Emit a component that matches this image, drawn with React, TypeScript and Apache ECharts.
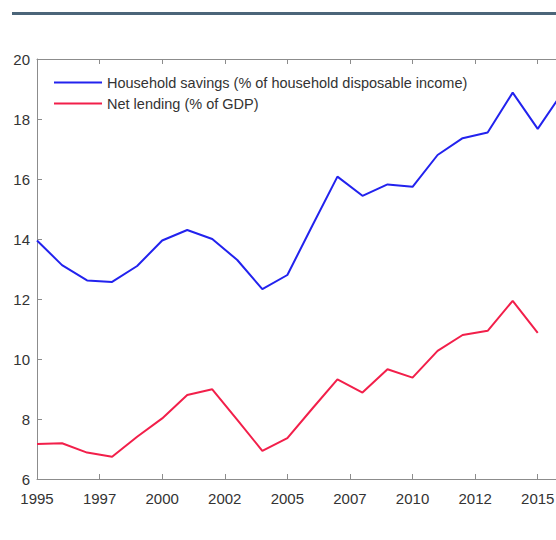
import React, { useEffect, useRef } from "react";
import * as echarts from "echarts";

const years = [1995, 1996, 1997, 1998, 1999, 2000, 2001, 2002, 2003, 2004, 2005, 2006, 2007, 2008, 2009, 2010, 2011, 2012, 2013, 2014, 2015, 2016];
const householdSavings = [13.95, 13.13, 12.62, 12.57, 13.1, 13.95, 14.3, 14.0, 13.3, 12.33, 12.8, 14.45, 16.08, 15.44, 15.82, 15.74, 16.8, 17.36, 17.55, 18.88, 17.67, 18.9];
const netLending = [7.17, 7.19, 6.88, 6.74, 7.41, 8.02, 8.8, 8.99, 7.97, 6.94, 7.36, 8.35, 9.32, 8.88, 9.66, 9.38, 10.27, 10.8, 10.94, 11.94, 10.87];
const seriesNames = ["Household savings (% of household disposable income)", "Net lending (% of GDP)"];

const AXIS_COLOR = "#8c8c8c";
const TEXT_COLOR = "#333333";
const FONT = "Liberation Sans, Arial, sans-serif";

export default function App() {
  const ref = useRef<HTMLDivElement>(null);
  useEffect(() => {
    if (!ref.current) return;
    const chart = echarts.init(ref.current, undefined, { renderer: "svg" });
    const xCommon = {
      type: "value" as const,
      min: 1995,
      max: 2017.5,
      interval: 2.5,
      splitLine: { show: false },
      axisLine: { show: true, lineStyle: { color: AXIS_COLOR, width: 1 } },
      axisTick: { show: true, inside: true, length: 5, lineStyle: { color: AXIS_COLOR } },
    };
    chart.setOption({
      animation: false,
      backgroundColor: "#ffffff",
      textStyle: { fontFamily: FONT },
      graphic: [
        { type: "rect", shape: { x: 12, y: 12, width: 640, height: 3 }, style: { fill: "#4b6579" } },
      ],
      grid: { left: 37, top: 59, bottom: 61, right: 14, containLabel: false },
      legend: {
        orient: "vertical",
        left: 49,
        top: 70,
        icon: "rect",
        itemWidth: 48,
        itemHeight: 2,
        itemGap: 6,
        textStyle: { fontSize: 14.5, color: TEXT_COLOR, fontFamily: FONT },
        data: seriesNames,
      },
      xAxis: [
        {
          ...xCommon,
          position: "bottom",
          axisLabel: {
            show: true,
            color: TEXT_COLOR,
            fontSize: 15,
            fontFamily: FONT,
            margin: 12,
            formatter: (v: number) => String(Math.floor(v)),
          },
        },
        { ...xCommon, position: "top", axisLabel: { show: false } },
      ],
      yAxis: [
        {
          type: "value",
          min: 6,
          max: 20,
          interval: 2,
          position: "left",
          splitLine: { show: false },
          axisLine: { show: true, lineStyle: { color: AXIS_COLOR, width: 1 } },
          axisTick: { show: true, inside: true, length: 5, lineStyle: { color: AXIS_COLOR } },
          axisLabel: { color: TEXT_COLOR, fontSize: 15, fontFamily: FONT, margin: 7 },
        },
        {
          type: "value",
          min: 6,
          max: 20,
          interval: 2,
          position: "right",
          splitLine: { show: false },
          axisLine: { show: true, lineStyle: { color: AXIS_COLOR, width: 1 } },
          axisTick: { show: true, inside: true, length: 5, lineStyle: { color: AXIS_COLOR } },
          axisLabel: { show: false },
        },
      ],
      series: [
        {
          name: seriesNames[0],
          type: "line",
          symbol: "none",
          data: householdSavings.map((v, i) => [years[i], v]),
          lineStyle: { color: "#2222ee", width: 2 },
          itemStyle: { color: "#2222ee" },
        },
        {
          name: seriesNames[1],
          type: "line",
          symbol: "none",
          data: netLending.map((v, i) => [years[i], v]),
          lineStyle: { color: "#f21f4a", width: 2 },
          itemStyle: { color: "#f21f4a" },
        },
      ],
    });
    return () => chart.dispose();
  }, []);
  return (
    <div style={{ position: "fixed", left: 0, top: 0, width: 556, height: 540, overflow: "hidden", background: "#fff" }}>
      <div ref={ref} style={{ width: 620, height: 540 }} />
    </div>
  );
}
